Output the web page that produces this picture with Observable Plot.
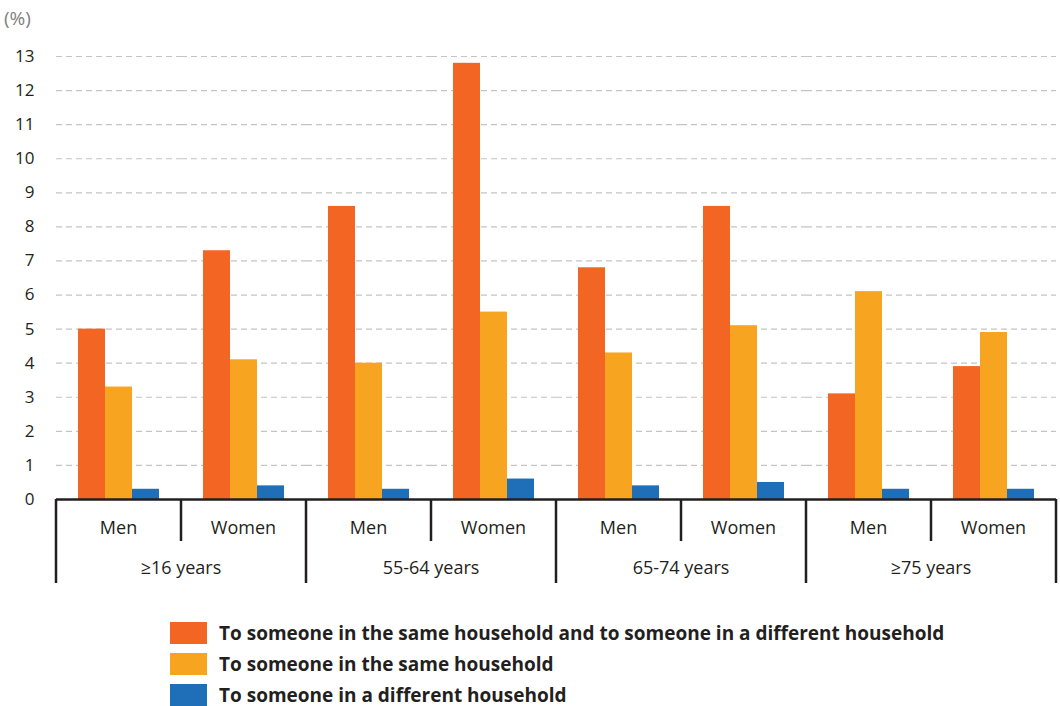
<!DOCTYPE html>
<html>
<head>
<meta charset="utf-8">
<script src="https://cdn.jsdelivr.net/npm/d3@7"></script>
<script src="https://cdn.jsdelivr.net/npm/@observablehq/plot@0.6"></script>
<style>
  html, body { margin: 0; padding: 0; background: #fff; }
  #chart svg { display: block; }
  #legend { margin-left: 170px; margin-top: 20px; }
  #legend .leg-swatches { font-family: "Open Sans", sans-serif; font-size: 19px; font-weight: bold; color: #231f20; margin: 0; }
  #legend .leg-swatch { margin: 0 0 5px 0; padding: 0; line-height: 26px; }
  #legend .leg-swatch svg { margin-right: 12px; }
</style>
</head>
<body>
<div id="chart"></div>
<div id="legend"></div>
<script>
const groups = ["≥16 years", "55-64 years", "65-74 years", "≥75 years"];
const sexes = ["Men", "Women"];
const series = [
  "To someone in the same household and to someone in a different household",
  "To someone in the same household",
  "To someone in a different household"
];
const bothValues = [5.0, 7.3, 8.6, 12.8, 6.8, 8.6, 3.1, 3.9];
const sameValues = [3.3, 4.1, 4.0, 5.5, 4.3, 5.1, 6.1, 4.9];
const diffValues = [0.3, 0.4, 0.3, 0.6, 0.4, 0.5, 0.3, 0.3];
const colors = ["#F26522", "#F7A520", "#1F6FB8"];
const yTicks = [0, 1, 2, 3, 4, 5, 6, 7, 8, 9, 10, 11, 12, 13];

const seriesValues = [bothValues, sameValues, diffValues];
const keys = [];
const cats = [];
const rows = [];
groups.forEach((g, gi) => sexes.forEach((s, si) => {
  const i = gi * 2 + si;
  const key = g + "|" + s;
  keys.push(key);
  cats.push({key, group: g, sex: s});
  series.forEach((se, k) => rows.push({key, group: g, sex: s, series: se, value: seriesValues[k][i]}));
}));

const ink = "#231f20";
const font = "'Open Sans', sans-serif";
const plot = Plot.plot({
  width: 1060,
  height: 600,
  marginLeft: 55,
  marginRight: 3,
  marginTop: 56,
  marginBottom: 101,
  style: {fontFamily: font, fontSize: "17px", color: ink, background: "#fff", overflow: "visible"},
  fx: {domain: keys, padding: 0, axis: null},
  x: {domain: series, paddingInner: 0, paddingOuter: 0.75, axis: null},
  y: {domain: [0, 13], ticks: yTicks, tickSize: 0, tickPadding: 22, label: null, axis: "left"},
  color: {domain: series, range: colors},
  marks: [
    Plot.ruleY(yTicks.slice(1), {stroke: "#c4c4c4", strokeWidth: 1.2, strokeDasharray: "6,4"}),
    Plot.barY(rows, {fx: "key", x: "series", y: "value", fill: "series"}),
    Plot.ruleY([0], {stroke: ink, strokeWidth: 2.5})
  ]
});
document.getElementById("chart").appendChild(plot);

// two-level category axis, positioned with the plot's own scales
const svg = d3.select(plot);
const fx = plot.scale("fx");
const ys = plot.scale("y");
const y0 = ys.apply(0);
const bw = fx.bandwidth;
const g = svg.append("g").attr("fill", ink).attr("font-family", font).attr("text-anchor", "middle");

keys.forEach((k, i) => {
  const x = fx.apply(k);
  const long = i % 2 === 0;
  g.append("line").attr("x1", x).attr("x2", x).attr("y1", y0).attr("y2", y0 + (long ? 84 : 42))
    .attr("stroke", ink).attr("stroke-width", 2.5);
  g.append("text").attr("x", x + bw / 2).attr("y", y0 + 35)
    .attr("font-size", 18).text(cats[i].sex);
  if (long) {
    g.append("text").attr("x", x + bw).attr("y", y0 + 75)
      .attr("font-size", 18).text(cats[i].group);
  }
});
const xEnd = fx.apply(keys[keys.length - 1]) + bw;
g.append("line").attr("x1", xEnd).attr("x2", xEnd).attr("y1", y0).attr("y2", y0 + 84)
  .attr("stroke", ink).attr("stroke-width", 2.5);

// unit label
svg.append("text").attr("x", 4).attr("y", 25).attr("fill", "#808080").attr("text-anchor", "start")
  .attr("font-family", font).attr("font-size", 19).text("(%)");

const legend = Plot.legend({
  color: {type: "ordinal", domain: series, range: colors},
  legend: "swatches",
  columns: 1,
  swatchWidth: 37,
  swatchHeight: 22,
  className: "leg"
});
document.getElementById("legend").appendChild(legend);
</script>
</body>
</html>
